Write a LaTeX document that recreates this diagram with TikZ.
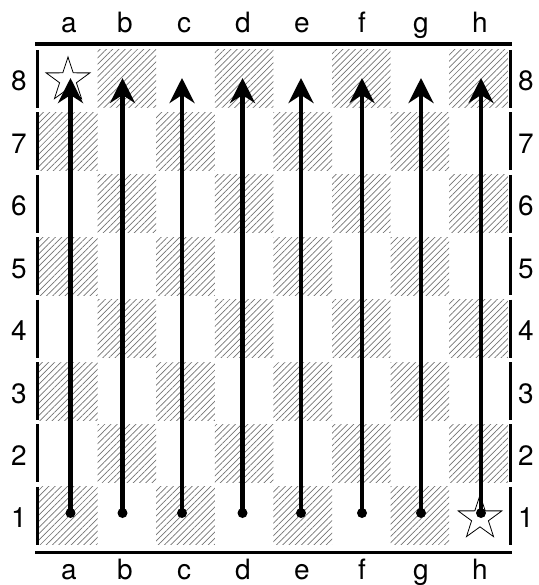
\documentclass[tikz,border=0pt]{standalone}
\usepackage{fontspec}
\setmainfont{TeX Gyre Heros}
\usetikzlibrary{patterns.meta,shapes.geometric,arrows.meta}
\begin{document}
\begin{tikzpicture}[x=1pt,y=-1pt,
  lbl/.style={font=\fontsize{28}{28}\selectfont, inner sep=0pt, anchor=base},
  hatch/.style={pattern={Lines[angle=45,distance=4.4pt,line width=0.7pt]}, pattern color=black!55},
  border/.style={line width=3.5pt},
  mover/.style={line width=4.5pt, -{Stealth[length=25pt,width=25pt,inset=8pt]}},
  dotst/.style={circle, fill=black, inner sep=0pt, minimum size=10pt},
  starst/.style={star, star points=5, star point ratio=2.6, draw=black, fill=white, line width=0.8pt, minimum size=46pt, inner sep=0pt}]
\useasboundingbox (0,0) rectangle (538,585);
% hatched squares
\foreach \c in {0,...,7}{
  \foreach \r in {1,...,8}{
    \pgfmathtruncatemacro{\myparity}{mod(\c+\r,2)}
    \ifnum\myparity=1
      \pgfmathsetmacro{\xl}{39+58.6*\c}
      \pgfmathsetmacro{\yt}{50+62.4*(8-\r)}
      \path[hatch] (\xl,\yt) rectangle ++(58.6,58);
    \fi
  }
}
% borders
\coordinate (tl) at (35,44);
\coordinate (tr) at (512,44);
\coordinate (bl) at (35,552.5);
\coordinate (br) at (512,552.5);
\draw[border] (tl) -- (tr);
\draw[border] (bl) -- (br);
\foreach \r in {1,...,8}{
  \pgfmathsetmacro{\yt}{50+62.4*(8-\r)}
  \draw[line width=3pt] (37,\yt) -- ++(0,58);
  \draw[line width=3pt] (510,\yt) -- ++(0,58);
}
% labels
\foreach \l/\x in {a/69,b/125,c/184,d/243,e/302,f/362,g/421,h/480}{
  \node[lbl] (top\l) at (\x,33) {\l};
  \node[lbl] (bot\l) at (\x,579) {\l};
}
\foreach \r in {1,...,8}{
  \pgfmathsetmacro{\yb}{91+62.4*(8-\r)}
  \node[lbl] (left\r) at (19,\yb) {\r};
  \node[lbl] (right\r) at (526,\yb) {\r};
}
% stars
\node[starst] (s1) at (68,80) {};
\node[starst] (s2) at (480,518) {};
% arrows
\foreach \l/\x in {a/70.5,b/122.5,c/182,d/242.5,e/301,f/362,g/421,h/481}{
  \node[dotst] (from\l) at (\x,513) {};
  \coordinate (to\l) at (\x,78);
  \draw[mover] (from\l.center) -- (to\l);
}
\end{tikzpicture}
\end{document}
